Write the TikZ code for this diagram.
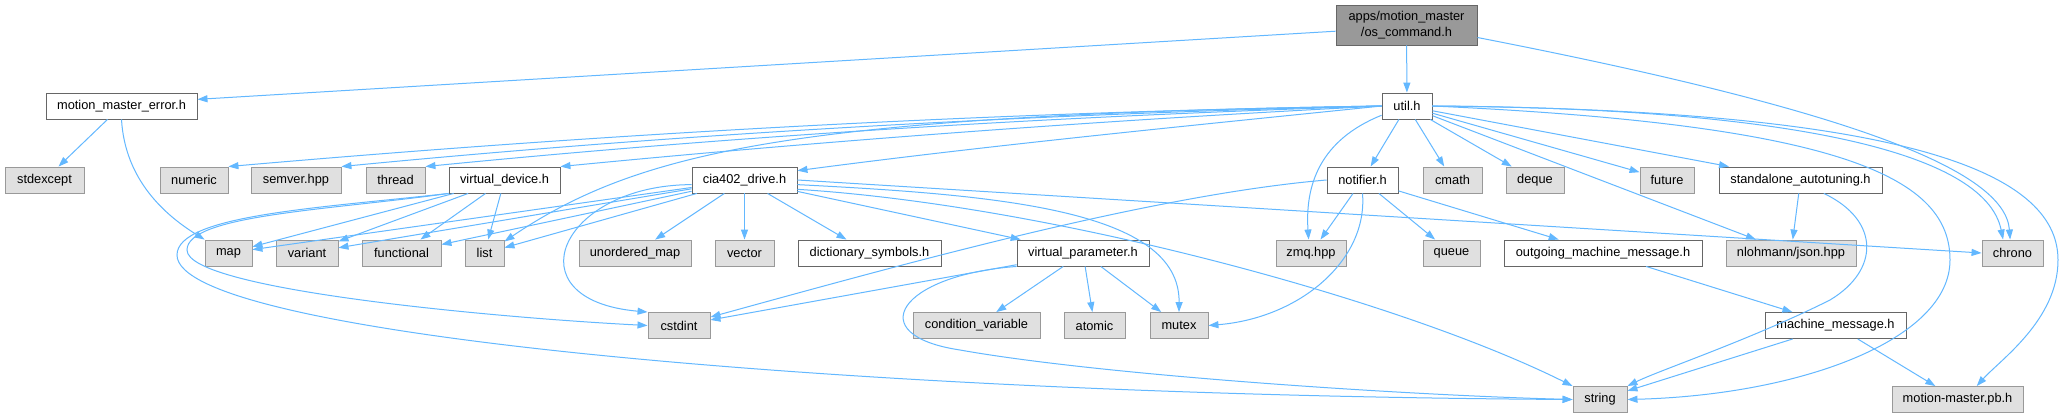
\documentclass[tikz,border=0pt]{standalone}
\usepackage{fontspec}
\setmainfont{Liberation Sans}
\usetikzlibrary{arrows.meta}

\definecolor{incblue}{HTML}{63B8FF}
\definecolor{sysfill}{HTML}{E0E0E0}
\definecolor{sysline}{HTML}{999999}
\definecolor{usrline}{HTML}{666666}
\definecolor{mainfill}{HTML}{999999}

\tikzset{
  hbox/.style={draw, rectangle, inner sep=0pt, minimum height=26pt, line width=0.9pt,
    font=\fontsize{12.8}{15.6}\selectfont},
  usr/.style={hbox, fill=white, draw=usrline},
  sys/.style={hbox, fill=sysfill, draw=sysline},
  mainfile/.style={hbox, fill=mainfill, draw=usrline, minimum height=40pt, align=center},
  inc/.style={draw=incblue, line width=1pt, -{Triangle[length=10pt,width=7pt]}}
}

\begin{document}
\begin{tikzpicture}[x=1pt,y=-1pt]

      \fill[white] (0,0) rectangle (2065,417);
      \useasboundingbox (0,0) rectangle (2065,417);

      % top
      \node[mainfile, minimum width=141pt] (root) at (1406.5,25) {apps/motion\_master\\/os\_command.h};
      \node[usr, minimum width=151pt] (mme)  at (121.5,106) {motion\_master\_error.h};
      \node[usr, minimum width=50pt]  (util) at (1407,106)  {util.h};

      % second row
      \node[sys, minimum width=79pt]  (stdexcept) at (44.5,180)   {stdexcept};
      \node[sys, minimum width=68pt]  (numeric)   at (194,180)    {numeric};
      \node[sys, minimum width=90pt]  (semver)    at (296,180)    {semver.hpp};
      \node[sys, minimum width=59pt]  (thread)    at (395.5,180)  {thread};
      \node[usr, minimum width=111pt] (vdev)      at (504.5,180)  {virtual\_device.h};
      \node[usr, minimum width=105pt] (cia)       at (744.5,180)  {cia402\_drive.h};
      \node[usr, minimum width=71pt]  (notif)     at (1362.5,180) {notifier.h};
      \node[sys, minimum width=59pt]  (cmath)     at (1452.5,180) {cmath};
      \node[sys, minimum width=58pt]  (deque)     at (1535,180)   {deque};
      \node[sys, minimum width=54pt]  (future)    at (1667,180)   {future};
      \node[usr, minimum width=163pt] (sat)       at (1800.5,180) {standalone\_autotuning.h};

      % third row
      \node[sys, minimum width=47pt]  (map)        at (228.5,253)  {map};
      \node[sys, minimum width=62pt]  (variant)    at (307,253)    {variant};
      \node[sys, minimum width=79pt]  (functional) at (401.5,253)  {functional};
      \node[sys, minimum width=39pt]  (list)       at (484.5,253)  {list};
      \node[sys, minimum width=112pt] (umap)       at (635,253)    {unordered\_map};
      \node[sys, minimum width=59pt]  (vector)     at (744.5,253)  {vector};
      \node[usr, minimum width=143pt] (dict)       at (869.5,253)  {dictionary\_symbols.h};
      \node[usr, minimum width=132pt] (vparam)     at (1083,253)   {virtual\_parameter.h};
      \node[sys, minimum width=70pt]  (zmq)        at (1311,253)   {zmq.hpp};
      \node[sys, minimum width=57pt]  (queue)      at (1451.5,253) {queue};
      \node[usr, minimum width=198pt] (outmsg)     at (1603,253)   {outgoing\_machine\_message.h};
      \node[sys, minimum width=130pt] (json)       at (1791,253)   {nlohmann/json.hpp};
      \node[sys, minimum width=61pt]  (chrono)     at (2012.5,253) {chrono};

      % fourth row
      \node[sys, minimum width=62pt]  (cstdint) at (679,325.5)    {cstdint};
      \node[sys, minimum width=127pt] (condvar) at (976.5,325.5)  {condition\_variable};
      \node[sys, minimum width=61pt]  (atomic)  at (1094.5,325.5) {atomic};
      \node[sys, minimum width=58pt]  (mutex)   at (1179,325.5)   {mutex};
      \node[usr, minimum width=141pt] (mmsg)    at (1835.5,325.5) {machine\_message.h};

      % bottom row
      \node[sys, minimum width=54pt]  (string) at (1600,399.5)   {string};
      \node[sys, minimum width=131pt] (pb)     at (1957.5,399.5) {motion-master.pb.h};

      % os_command.h
      \draw[inc] (root.185) -- (mme.5);
      \draw[inc] (root) -- (util);
      \draw[inc] (root.-10) .. controls (1850,110) and (2005,170) .. (chrono.100);

      % motion_master_error.h
      \draw[inc] (mme) -- (stdexcept);
      \draw[inc] (mme.south) .. controls (125,180) and (165,215) .. (map.north west);

      % util.h
      \draw[inc] (util.west) .. controls (997,112) and (613,133) .. (numeric.north east);
      \draw[inc] (util.west) .. controls (1035,114) and (688,133) .. (semver.north east);
      \draw[inc] (util.west) .. controls (1064,116) and (746,135) .. (thread.north east);
      \draw[inc] (util.west) .. controls (1108,120) and (834,140) .. (vdev.north east);
      \draw[inc] (util.west) .. controls (1187,126) and (992,145) .. (cia.10);
      \draw[inc] (util.west) .. controls (800,115) and (640,150) .. (list.30);
      \draw[inc] (util.200) .. controls (1320,140) and (1305,185) .. (zmq.100);
      \draw[inc] (util) -- (notif);
      \draw[inc] (util) -- (cmath);
      \draw[inc] (util) -- (deque);
      \draw[inc] (util) -- (future);
      \draw[inc] (util) -- (sat);
      \draw[inc] (util) -- (json);
      \draw[inc] (util.east) .. controls (1780,108) and (1985,150) .. (chrono.125);
      \draw[inc] (util.east) .. controls (1850,125) and (1950,180) .. (1950,260)
                 .. controls (1950,340) and (1800,395) .. (string.east);
      \draw[inc] (util.east) .. controls (1900,110) and (2058,170) .. (2058,260)
                 .. controls (2058,320) and (2000,360) .. (pb.35);

      % virtual_device.h
      \draw[inc] (vdev) -- (map);
      \draw[inc] (vdev) -- (variant);
      \draw[inc] (vdev) -- (functional);
      \draw[inc] (vdev) -- (list);
      \draw[inc] (vdev.south west) .. controls (330,210) and (187,215) .. (187,250)
                 .. controls (187,290) and (500,318) .. (cstdint.west);
      \draw[inc] (vdev.south west) .. controls (320,208) and (177,215) .. (177,255)
                 .. controls (177,335) and (850,395) .. (string.west);

      % cia402_drive.h
      \draw[inc] (cia) -- (map);
      \draw[inc] (cia) -- (variant);
      \draw[inc] (cia) -- (functional);
      \draw[inc] (cia) -- (list.15);
      \draw[inc] (cia.185) .. controls (560,185) and (510,300) .. (cstdint.north west);
      \draw[inc] (cia) -- (umap);
      \draw[inc] (cia) -- (vector);
      \draw[inc] (cia) -- (dict);
      \draw[inc] (cia) -- (vparam);
      \draw[inc] (cia.-5) .. controls (1000,195) and (1180,210) .. (mutex.north);
      \draw[inc] (cia.-10) .. controls (1050,205) and (1400,300) .. (string.north west);
      \draw[inc] (cia.east) -- (chrono.west);

      % virtual_parameter.h
      \draw[inc] (vparam.190) -- (cstdint.10);
      \draw[inc] (vparam) -- (condvar);
      \draw[inc] (vparam) -- (atomic);
      \draw[inc] (vparam) -- (mutex);
      \draw[inc] (vparam.south west) .. controls (900,275) and (860,335) .. (960,350)
                 .. controls (1100,375) and (1400,395) .. (string.west);

      % notifier.h
      \draw[inc] (notif.west) .. controls (1150,195) and (900,265) .. (cstdint.15);
      \draw[inc] (notif) -- (zmq);
      \draw[inc] (notif) -- (queue);
      \draw[inc] (notif.south) .. controls (1368,260) and (1300,318) .. (mutex.east);
      \draw[inc] (notif) -- (outmsg);

      % standalone_autotuning.h
      \draw[inc] (sat) -- (json);
      \draw[inc] (sat.-30) .. controls (1880,220) and (1880,270) .. (1830,300)
                 .. controls (1750,340) and (1660,370) .. (string.north east);

      % messages
      \draw[inc] (outmsg) -- (mmsg);
      \draw[inc] (mmsg) -- (string);
      \draw[inc] (mmsg) -- (pb);

    \end{tikzpicture}
\end{document}
